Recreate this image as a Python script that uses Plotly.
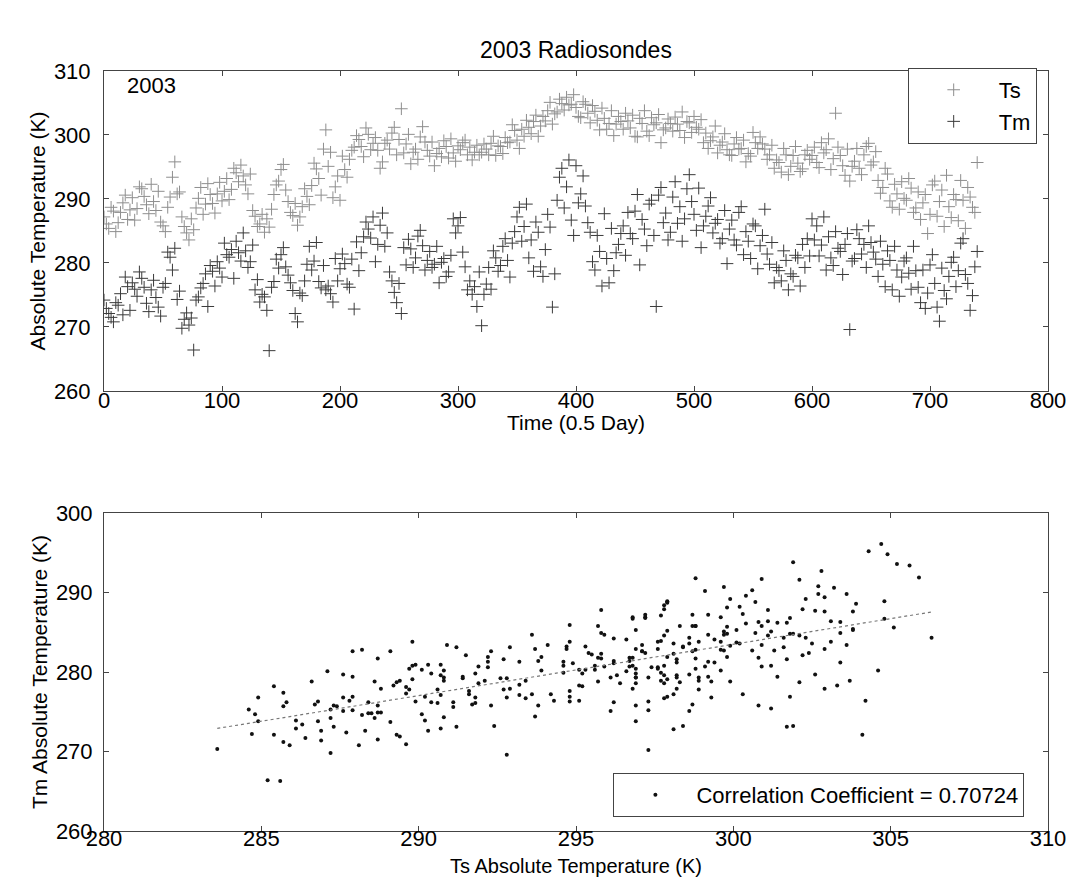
import numpy as np
import plotly.graph_objects as go

# ---------------- data ----------------
# sample index (0.5-day steps): set A at 0,4,8,... and set B at 2,6,10,...
time_idx_a = list(range(0, 741, 4))
time_idx_b = list(range(2, 739, 4))

ts_a = [
    287.2, 285.4, 288.1, 286.3, 289.4, 286.8, 290.2, 288.5, 291.6, 289.1,
    292.3, 288.2, 286.4, 284.9, 290.3, 295.8, 291.1, 285.7, 283.6, 285.2,
    290.1, 287.6, 292.4, 289.3, 290.8, 289.7, 293.2, 291.5, 294.1, 295.3,
    292.2, 293.9, 287.3, 286.1, 284.8, 285.6, 290.7, 292.8, 295.4, 289.6,
    287.4, 285.9, 288.8, 290.4, 292.1, 294.7, 290.6, 300.8, 297.3, 291.9,
    289.8, 294.6, 296.2, 298.1, 299.3, 296.6, 300.1, 298.7, 297.6, 295.8,
    299.2, 300.3, 296.9, 304.1, 298.6, 295.5, 297.8, 299.7, 298.9, 296.7,
    295.2, 297.9, 299.1, 296.4, 297.2, 298.3, 298.8, 296.9, 296.1, 298.4,
    297.3, 297.8, 298.7, 296.8, 298.2, 299.6, 298.9, 300.7, 297.9, 299.8,
    301.2, 302.1, 299.8, 302.9, 303.8, 301.7, 303.6, 304.9, 305.9, 304.8,
    304.3, 302.7, 304.8, 301.9, 303.7, 300.8, 302.6, 301.8, 299.9, 302.9,
    300.9, 302.2, 303.1, 299.7, 301.8, 300.6, 302.7, 301.9, 298.8, 301.1,
    301.8, 302.8, 300.7, 299.6, 301.9, 302.9, 300.9, 298.8, 297.9, 299.7,
    297.2, 298.9, 297.7, 296.8, 299.6, 297.9, 295.8, 296.7, 298.8, 299.7,
    297.8, 296.9, 294.8, 295.7, 297.9, 293.8, 296.8, 295.6, 294.7, 297.6,
    296.8, 295.7, 298.8, 297.7, 294.6, 303.4, 296.8, 293.7, 292.8, 295.9,
    294.8, 296.9, 298.7, 295.8, 292.9, 291.8, 293.9, 288.7, 290.8, 292.7,
    289.8, 291.7, 288.6, 286.8, 290.7, 287.6, 292.8, 289.6, 285.7, 288.8,
    290.7, 286.6, 289.8, 291.8, 288.7, 295.7,
]

tm_a = [
    274.2, 272.1, 270.8, 273.4, 271.9, 276.3, 276.9, 274.8, 277.6, 273.7,
    275.8, 274.6, 271.7, 276.8, 280.9, 282.3, 275.6, 271.2, 270.3, 266.4,
    274.7, 276.8, 273.2, 278.7, 280.2, 277.8, 281.3, 282.1, 283.4, 280.3,
    281.9, 280.2, 275.8, 273.9, 274.7, 266.3, 277.1, 279.2, 282.4, 278.1,
    275.7, 270.8, 274.9, 279.8, 278.9, 283.2, 276.1, 275.8, 275.2, 280.7,
    279.1, 279.9, 276.2, 272.8, 278.8, 284.1, 285.3, 287.2, 282.9, 287.8,
    284.7, 277.2, 273.8, 272.1, 279.7, 282.2, 280.8, 285.1, 278.9, 281.8,
    279.8, 276.9, 280.7, 278.6, 286.9, 285.8, 281.7, 275.8, 275.1, 273.2,
    270.2, 276.7, 275.9, 280.8, 279.6, 283.8, 277.8, 284.9, 288.7, 285.7,
    280.8, 278.7, 284.8, 277.9, 287.6, 273.1, 289.8, 294.8, 291.9, 286.7,
    295.2, 290.8, 288.9, 284.8, 278.9, 281.8, 287.7, 276.9, 278.8, 282.9,
    285.8, 287.9, 283.8, 290.7, 286.8, 282.7, 289.8, 273.2, 291.8, 287.8,
    284.8, 292.7, 288.8, 286.9, 293.8, 287.6, 291.7, 285.8, 288.9, 284.7,
    286.8, 283.8, 279.9, 286.7, 282.8, 288.8, 284.9, 280.7, 285.8, 282.7,
    288.4, 279.8, 276.9, 278.8, 281.9, 275.8, 277.9, 280.8, 282.9, 283.8,
    286.9, 285.8, 282.8, 278.9, 280.8, 284.9, 281.8, 282.9, 269.6, 280.7,
    283.8, 282.9, 285.8, 281.7, 277.9, 279.8, 281.9, 275.8, 278.9, 277.8,
    280.8, 275.9, 278.8, 273.8, 272.9, 279.7, 276.8, 270.9, 275.7, 277.9,
    280.9, 278.8, 283.8, 276.8, 274.9, 281.8,
]

ts_b = [
    286.1, 288.7, 284.9, 287.9, 290.6, 288.3, 286.7, 291.9, 290.4, 287.7,
    289.6, 291.2, 285.8, 288.7, 293.4, 290.8, 287.2, 284.7, 286.9, 288.6,
    291.8, 289.2, 290.7, 287.8, 292.6, 291.2, 289.9, 294.8, 292.7, 293.6,
    290.8, 288.2, 285.7, 287.6, 286.9, 288.4, 292.2, 294.6, 291.4, 287.9,
    289.3, 287.2, 291.6, 289.1, 295.6, 293.2, 297.8, 295.1, 290.2, 293.6,
    296.7, 293.4, 297.6, 299.9, 298.2, 301.1, 297.7, 299.6, 294.8, 298.7,
    297.8, 301.2, 299.3, 297.2, 300.1, 297.3, 296.2, 301.3, 297.6, 298.9,
    297.1, 296.6, 298.2, 299.4, 295.9, 297.7, 299.2, 298.1, 297.3, 296.9,
    298.6, 296.9, 299.8, 298.3, 297.1, 298.8, 301.6, 299.2, 300.9, 302.3,
    300.2, 303.1, 301.4, 302.2, 305.1, 303.3, 305.6, 303.9, 304.7, 306.3,
    302.9, 305.2, 303.4, 304.6, 302.3, 304.2, 300.9, 303.8, 301.7, 302.1,
    303.4, 301.1, 299.8, 302.6, 303.8, 299.9, 301.6, 303.2, 300.8, 302.5,
    300.6, 301.7, 303.6, 302.1, 300.4, 301.2, 302.4, 300.3, 299.1, 301.4,
    298.4, 300.2, 296.9, 298.6, 297.8, 299.2, 297.1, 300.4, 297.9, 298.6,
    296.2, 298.4, 296.1, 294.2, 296.9, 295.1, 298.2, 294.3, 296.9, 296.2,
    298.1, 294.9, 297.2, 299.4, 296.3, 298.1, 295.2, 297.8, 295.1, 297.9,
    293.8, 298.2, 295.3, 297.4, 290.9, 294.8, 289.7, 292.3, 288.4, 290.1,
    293.2, 287.9, 291.1, 289.4, 284.6, 292.2, 287.3, 291.4, 293.7, 287.1,
    289.9, 292.9, 285.4, 290.3, 287.9,
]

tm_b = [
    272.9, 271.5, 273.8, 275.2, 277.8, 272.6, 275.9, 278.6, 276.2, 272.4,
    277.3, 273.1, 276.2, 281.7, 278.9, 274.3, 269.8, 272.2, 271.4, 274.2,
    276.1, 278.3, 279.6, 276.4, 279.2, 283.1, 280.9, 277.6, 281.6, 284.7,
    279.3, 282.8, 277.4, 275.1, 272.6, 276.2, 280.6, 281.3, 279.4, 276.9,
    272.1, 275.3, 277.2, 282.6, 280.3, 277.1, 279.6, 276.4, 273.9, 277.2,
    281.4, 276.7, 280.6, 283.3, 281.6, 286.4, 283.9, 280.2, 285.9, 282.6,
    278.6, 275.4, 276.8, 282.4, 283.7, 279.3, 284.2, 282.7, 280.4, 279.3,
    282.6, 280.1, 277.9, 281.2, 284.7, 287.1, 279.4, 277.2, 276.3, 278.6,
    275.1, 279.3, 281.9, 278.7, 282.6, 280.4, 283.1, 287.2, 283.4, 289.2,
    283.6, 286.4, 279.4, 282.1, 285.6, 278.3, 293.4, 288.6, 296.1, 284.3,
    289.4, 293.6, 286.3, 280.2, 284.3, 276.4, 280.7, 285.4, 281.6, 284.6,
    281.2, 284.6, 288.1, 279.7, 285.3, 289.2, 284.3, 290.6, 286.3, 283.6,
    290.3, 286.2, 283.4, 291.6, 289.6, 285.1, 282.4, 287.3, 290.2, 286.2,
    283.1, 288.2, 285.3, 283.6, 287.9, 281.3, 283.4, 286.1, 279.1, 284.3,
    281.4, 283.2, 279.3, 277.2, 280.4, 278.3, 281.2, 276.4, 279.3, 281.1,
    283.6, 281.1, 287.2, 284.1, 279.6, 282.3, 278.2, 284.6, 280.3, 285.2,
    281.4, 279.3, 283.2, 280.6, 283.4, 276.3, 280.4, 282.6, 274.8, 280.3,
    278.4, 282.6, 276.2, 278.9, 275.3, 281.3, 273.1, 279.2, 274.4, 280.1,
    276.3, 283.1, 278.2, 272.6, 279.4,
]

corr_label = "Correlation Coefficient = 0.70724"
title_text = "2003 Radiosondes"
year_text = "2003"
xtitle_top = "Time (0.5 Day)"
xtitle_bottom = "Ts Absolute Temperature (K)"

time_all = time_idx_a + time_idx_b
ts_all = ts_a + ts_b
tm_all = tm_a + tm_b

# ---------------- figure ----------------
FONT = "Liberation Sans, Arial, sans-serif"
tick_fs = 22
title_fs = 21
TOP_DOM = [0.579, 1]
BOT_DOM = [0, 0.4184]

fig = go.Figure()

fig.add_trace(go.Scatter(
    x=time_all, y=ts_all, mode="markers", name="Ts",
    marker=dict(symbol="cross-thin-open", size=9, color="#8e8e8e",
                line=dict(color="#8e8e8e", width=1)),
    xaxis="x", yaxis="y", legend="legend"))
fig.add_trace(go.Scatter(
    x=time_all, y=tm_all, mode="markers", name="Tm",
    marker=dict(symbol="cross-thin-open", size=9, color="#3a3a3a",
                line=dict(color="#3a3a3a", width=1)),
    xaxis="x", yaxis="y", legend="legend"))

# regression line of Tm on Ts
slope, icpt = np.polyfit(ts_all, tm_all, 1)
xfit = [min(ts_all), max(ts_all)]
yfit = [slope * v + icpt for v in xfit]

fig.add_trace(go.Scatter(
    x=ts_all, y=tm_all, mode="markers", name=corr_label,
    marker=dict(symbol="circle", size=4, color="#111111"),
    xaxis="x2", yaxis="y2", legend="legend2"))
fig.add_trace(go.Scatter(
    x=xfit, y=yfit, mode="lines", showlegend=False,
    line=dict(color="#777777", width=1.2, dash="dot"),
    xaxis="x2", yaxis="y2"))

axis_common = dict(
    showgrid=False, zeroline=False, showline=True, mirror="ticks",
    linecolor="#444444", linewidth=1, ticks="inside", ticklen=5,
    tickcolor="#444444", tickfont=dict(family=FONT, size=tick_fs, color="black"),
    automargin=False,
)

fig.update_layout(
    width=1075, height=879,
    margin=dict(l=96, r=35, t=63, b=56),
    paper_bgcolor="white", plot_bgcolor="white",
    font=dict(family=FONT, size=title_fs, color="black"),
    title=dict(text=title_text, x=0.5, xref="paper", y=1 - 42 / 879,
               yref="container", yanchor="middle", xanchor="center",
               font=dict(family=FONT, size=23, color="black")),
    xaxis=dict(domain=[0, 1], anchor="y", range=[0, 800], dtick=100,
               ticklabelstandoff=-10, **axis_common),
    yaxis=dict(domain=TOP_DOM, anchor="x", range=[260, 310], dtick=10,
               ticklabelstandoff=8,
               title=dict(text="Absolute Temperature (K)", standoff=2,
                          font=dict(size=title_fs)),
               **axis_common),
    xaxis2=dict(domain=[0, 1], anchor="y2", range=[280, 310], dtick=5,
                ticklabelstandoff=-12, **axis_common),
    yaxis2=dict(domain=BOT_DOM, anchor="x2", range=[260, 300], dtick=10,
                ticklabelstandoff=6,
                title=dict(text="Tm Absolute Temperature (K)", standoff=2,
                           font=dict(size=title_fs)),
                **axis_common),
    legend=dict(x=0.988, xanchor="right", y=1.004, yanchor="top",
                bgcolor="white", bordercolor="#444444", borderwidth=1,
                font=dict(family=FONT, size=tick_fs), itemwidth=80,
                tracegroupgap=0),
    legend2=dict(x=0.975, xanchor="right", y=0.0185, yanchor="bottom",
                 bgcolor="white", bordercolor="#444444", borderwidth=1,
                 font=dict(family=FONT, size=tick_fs), itemwidth=72),
    annotations=[
        dict(text=year_text, x=18, y=307.7, xref="x", yref="y",
             xanchor="left", yanchor="middle", showarrow=False,
             font=dict(family=FONT, size=tick_fs, color="black")),
        dict(text=xtitle_top, x=0.5, y=TOP_DOM[0], xref="paper", yref="paper",
             xanchor="center", yanchor="middle", yshift=-32, showarrow=False,
             font=dict(family=FONT, size=title_fs, color="black")),
        dict(text=xtitle_bottom, x=0.5, y=BOT_DOM[0], xref="paper", yref="paper",
             xanchor="center", yanchor="middle", yshift=-35, showarrow=False,
             font=dict(family=FONT, size=20, color="black")),
    ],
)

fig.write_html("out.html")
